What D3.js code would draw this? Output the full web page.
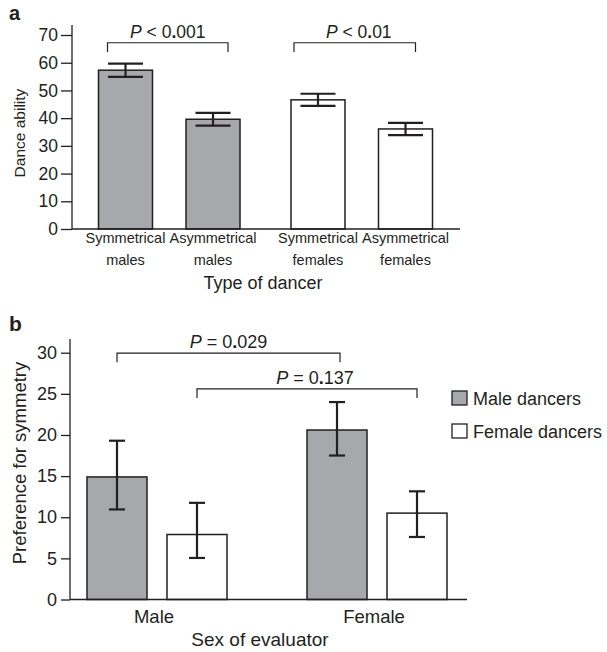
<!DOCTYPE html>
<html>
<head>
<meta charset="utf-8">
<script src="https://cdn.jsdelivr.net/npm/d3@7/dist/d3.min.js"></script>
<style>
  body { margin: 0; background: #fff; }
  svg { display: block; font-family: "Liberation Sans", Arial, sans-serif; }
  text { fill: #231f20; }
</style>
</head>
<body>
<svg id="chart" width="607" height="652"></svg>
<script>
// ---- panel a data ----
var dancerTypes = ["Symmetrical", "Asymmetrical"];
var dancerSexA = ["males", "females"];
var abilityMales = [57.3, 39.6];
var abilityFemales = [46.6, 36.1];
var abilitySEMales = [2.4, 2.3];
var abilitySEFemales = [2.2, 2.2];
var ticksA = [0, 10, 20, 30, 40, 50, 60, 70];

// ---- panel b data ----
var evaluators = ["Male", "Female"];
var seriesB = ["Male dancers", "Female dancers"];
var prefMaleDancers = [14.9, 20.6];
var prefFemaleDancers = [7.9, 10.5];
var lowMaleDancers = [10.95, 17.5];
var highMaleDancers = [19.3, 24.0];
var lowFemaleDancers = [5.05, 7.6];
var highFemaleDancers = [11.75, 13.15];
var ticksB = [0, 5, 10, 15, 20, 25, 30];

var grey = "#a7a8ab";
var ink = "#231f20";
var svg = d3.select("#chart");

// P labels with the bold decimal point used by the journal
function pLabel(g, x, y, op, num, size) {
  var t = g.append("text").attr("x", x).attr("y", y)
    .attr("text-anchor", "middle").attr("font-size", size);
  t.append("tspan").attr("font-style", "italic").text("P");
  t.append("tspan").text(" " + op + " " + num.split(".")[0]);
  t.append("tspan").attr("font-weight", "bold").text(".");
  t.append("tspan").text(num.split(".")[1]);
}

function bracket(g, x0, x1, yTop, yBot) {
  g.append("path")
    .attr("d", "M" + x0 + "," + yBot + "V" + yTop + "H" + x1 + "V" + yBot)
    .attr("fill", "none").attr("stroke", ink).attr("stroke-width", 1.2);
}

function errorBar(g, cx, y0, y1, cap) {
  g.append("line").attr("x1", cx).attr("x2", cx).attr("y1", y0).attr("y2", y1)
    .attr("stroke", ink).attr("stroke-width", 2.2);
  [y0, y1].forEach(function(yy) {
    g.append("line").attr("x1", cx - cap / 2).attr("x2", cx + cap / 2)
      .attr("y1", yy).attr("y2", yy)
      .attr("stroke", ink).attr("stroke-width", 2.2);
  });
}

// ================= panel a =================
var gA = svg.append("g");
var yA = d3.scaleLinear().domain([0, 70]).range([229, 35]);
var xGroupA = d3.scaleBand().domain(dancerSexA).range([73, 458]);
var xInnerA = d3.scaleBand().domain(dancerTypes).range([25.5, 167]).paddingInner(0.383);

var barsA = [];
dancerSexA.forEach(function(sex, gi) {
  var means = gi === 0 ? abilityMales : abilityFemales;
  var se = gi === 0 ? abilitySEMales : abilitySEFemales;
  dancerTypes.forEach(function(type, i) {
    barsA.push({ sex: sex, type: type, value: means[i], se: se[i],
      x: xGroupA(sex) + xInnerA(type) });
  });
});

gA.selectAll("rect.bar").data(barsA).join("rect").attr("class", "bar")
  .attr("x", function(d) { return d.x; })
  .attr("y", function(d) { return yA(d.value); })
  .attr("width", xInnerA.bandwidth())
  .attr("height", function(d) { return yA(0) - yA(d.value); })
  .attr("fill", function(d) { return d.sex === "males" ? grey : "#fff"; })
  .attr("stroke", ink).attr("stroke-width", 1.5);

barsA.forEach(function(d) {
  errorBar(gA, d.x + xInnerA.bandwidth() / 2, yA(d.value + d.se), yA(d.value - d.se), 35);
  var lbl = gA.append("text").attr("text-anchor", "middle").attr("font-size", 14.5)
    .attr("x", d.x + xInnerA.bandwidth() / 2);
  lbl.append("tspan").attr("y", 243).text(d.type);
  lbl.append("tspan").attr("x", d.x + xInnerA.bandwidth() / 2).attr("y", 265).text(d.sex);
});

var axA = gA.append("g").attr("transform", "translate(72,0)")
  .call(d3.axisLeft(yA).tickValues(ticksA).tickSize(11).tickPadding(3));
axA.select(".domain").remove();
axA.selectAll(".tick line").attr("stroke", ink).attr("stroke-width", 1.3);
axA.selectAll(".tick text").attr("font-size", 17.5).attr("font-family", null).attr("fill", ink);
gA.append("line").attr("x1", 72).attr("x2", 72).attr("y1", 25).attr("y2", 229)
  .attr("stroke", ink).attr("stroke-width", 1.3);
gA.append("line").attr("x1", 72).attr("x2", 460).attr("y1", 229).attr("y2", 229)
  .attr("stroke", ink).attr("stroke-width", 1.3);

var cA = function(i) { return barsA[i].x + xInnerA.bandwidth() / 2; };
bracket(gA, cA(0) - 18, cA(1) + 15, yA(67.2), yA(63.9));
pLabel(gA, (cA(0) - 18 + cA(1) + 15) / 2, 38, "<", "0.001", 17.5);
bracket(gA, cA(2) - 24, cA(3) + 10, yA(67.2), yA(63.9));
pLabel(gA, (cA(2) - 24 + cA(3) + 10) / 2 + 4, 38, "<", "0.01", 17.5);

gA.append("text").attr("x", 263).attr("y", 289).attr("text-anchor", "middle")
  .attr("font-size", 18).text("Type of dancer");
gA.append("text").attr("transform", "translate(25,133) rotate(-90)")
  .attr("text-anchor", "middle").attr("font-size", 15.5).text("Dance ability");
gA.append("text").attr("x", 9).attr("y", 20).attr("font-size", 20)
  .attr("font-weight", "bold").text("a");

// ================= panel b =================
var gB = svg.append("g");
var yB = d3.scaleLinear().domain([0, 30]).range([599.5, 352.7]);
var xGroupB = d3.scaleBand().domain(evaluators).range([47, 487]);
var xInnerB = d3.scaleBand().domain(seriesB).range([40, 180]).paddingInner(0.25);

var barsB = [];
evaluators.forEach(function(ev, gi) {
  barsB.push({ ev: ev, series: seriesB[0], value: prefMaleDancers[gi],
    lo: lowMaleDancers[gi], hi: highMaleDancers[gi] });
  barsB.push({ ev: ev, series: seriesB[1], value: prefFemaleDancers[gi],
    lo: lowFemaleDancers[gi], hi: highFemaleDancers[gi] });
});
barsB.forEach(function(d) { d.x = xGroupB(d.ev) + xInnerB(d.series); });

gB.selectAll("rect.bar").data(barsB).join("rect").attr("class", "bar")
  .attr("x", function(d) { return d.x; })
  .attr("y", function(d) { return yB(d.value); })
  .attr("width", xInnerB.bandwidth())
  .attr("height", function(d) { return yB(0) - yB(d.value); })
  .attr("fill", function(d) { return d.series === seriesB[0] ? grey : "#fff"; })
  .attr("stroke", ink).attr("stroke-width", 1.5);

barsB.forEach(function(d) {
  errorBar(gB, d.x + xInnerB.bandwidth() / 2, yB(d.hi), yB(d.lo), 16);
});

evaluators.forEach(function(ev) {
  gB.append("text").attr("x", xGroupB(ev) + xGroupB.bandwidth() / 2 - 3).attr("y", 623)
    .attr("text-anchor", "middle").attr("font-size", 18.5).text(ev);
});

var axB = gB.append("g").attr("transform", "translate(70,0)")
  .call(d3.axisLeft(yB).tickValues(ticksB).tickSize(9).tickPadding(4));
axB.select(".domain").remove();
axB.selectAll(".tick line").attr("stroke", ink).attr("stroke-width", 1.3);
axB.selectAll(".tick text").attr("font-size", 18).attr("font-family", null).attr("fill", ink);
gB.append("line").attr("x1", 70).attr("x2", 70).attr("y1", 339).attr("y2", 599.5)
  .attr("stroke", ink).attr("stroke-width", 1.3);
gB.append("line").attr("x1", 70).attr("x2", 467).attr("y1", 599.5).attr("y2", 599.5)
  .attr("stroke", ink).attr("stroke-width", 1.3);

var cB = function(i) { return barsB[i].x + xInnerB.bandwidth() / 2; };
bracket(gB, cB(0), cB(2) + 3, yB(29.95), yB(28.85));
pLabel(gB, (cB(0) + cB(2) + 3) / 2, 348, "=", "0.029", 18);
bracket(gB, cB(1), cB(3), yB(25.6), yB(24.5));
pLabel(gB, (cB(1) + cB(3)) / 2 + 8, 384, "=", "0.137", 18);

gB.append("text").attr("x", 260).attr("y", 646).attr("text-anchor", "middle")
  .attr("font-size", 19).text("Sex of evaluator");
gB.append("text").attr("transform", "translate(26,463) rotate(-90)")
  .attr("text-anchor", "middle").attr("font-size", 18.5).text("Preference for symmetry");
gB.append("text").attr("x", 9).attr("y", 331).attr("font-size", 21)
  .attr("font-weight", "bold").text("b");

// legend
var leg = gB.selectAll("g.leg").data(seriesB).join("g").attr("class", "leg")
  .attr("transform", function(d, i) { return "translate(452," + (391 + i * 33) + ")"; });
leg.append("rect").attr("width", 15).attr("height", 14)
  .attr("fill", function(d, i) { return i === 0 ? grey : "#fff"; })
  .attr("stroke", ink).attr("stroke-width", 1.3);
leg.append("text").attr("x", 21).attr("y", 13.5).attr("font-size", 18).text(function(d) { return d; });
</script>
</body>
</html>
